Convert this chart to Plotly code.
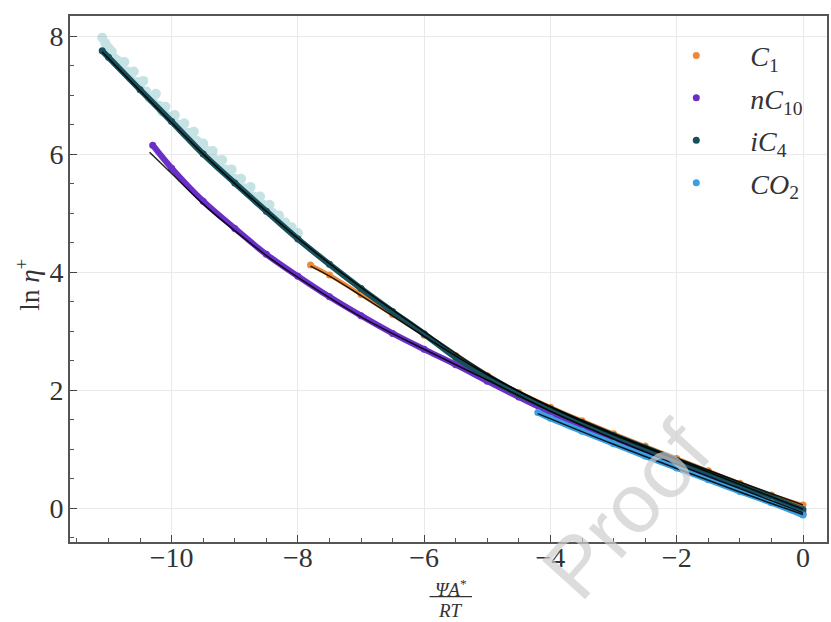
import plotly.graph_objects as go

# ---------------- data ----------------
series_names = ["C1", "nC10", "iC4", "CO2"]
legend_labels = ["<i>C</i><sub>1</sub>", "<i>nC</i><sub>10</sub>",
                 "<i>iC</i><sub>4</sub>", "<i>CO</i><sub>2</sub>"]
colors = ["#ee8a35", "#6a2fc8", "#174f5a", "#3aa0e2"]
line_widths = [4, 6, 6, 6]

x_c1 = [-7.8, -7.5, -7.0, -6.5, -6.0, -5.5, -5.0, -4.5, -4.0, -3.5, -3.0, -2.5, -2.0, -1.5, -1.0, -0.5, 0.0]
y_c1 = [4.12, 3.95, 3.62, 3.28, 2.93, 2.58, 2.24, 1.96, 1.71, 1.48, 1.26, 1.05, 0.84, 0.63, 0.42, 0.22, 0.05]

x_nc10 = [-10.3, -10.0, -9.5, -9.0, -8.5, -8.0, -7.5, -7.0, -6.5, -6.0, -5.5, -5.0, -4.5, -4.0, -3.5, -3.0, -2.5, -2.0, -1.5, -1.0, -0.5, 0.0]
y_nc10 = [6.15, 5.76, 5.20, 4.74, 4.30, 3.93, 3.58, 3.26, 2.96, 2.69, 2.43, 2.15, 1.88, 1.62, 1.38, 1.16, 0.94, 0.73, 0.52, 0.32, 0.11, -0.10]

x_ic4 = [-11.1, -11.0, -10.5, -10.0, -9.5, -9.0, -8.5, -8.0, -7.5, -7.0, -6.5, -6.0, -5.5, -5.0, -4.5, -4.0, -3.5, -3.0, -2.5, -2.0, -1.5, -1.0, -0.5, 0.0]
y_ic4 = [7.75, 7.64, 7.09, 6.55, 6.00, 5.51, 5.03, 4.56, 4.13, 3.72, 3.33, 2.95, 2.55, 2.22, 1.93, 1.68, 1.45, 1.23, 1.02, 0.81, 0.60, 0.39, 0.18, -0.03]

# scattered (noisy) iC4 points at high viscosity
x_ic4_noise = [-11.10, -11.05, -11.00, -10.95, -10.90, -10.85, -10.80, -10.75, -10.70, -10.65, -10.60, -10.55,
               -10.50, -10.45, -10.40, -10.35, -10.30, -10.25, -10.20, -10.15, -10.10, -10.05, -10.00, -9.95,
               -9.90, -9.85, -9.80, -9.75, -9.70, -9.65, -9.60, -9.55, -9.50, -9.45, -9.40, -9.35, -9.30,
               -9.25, -9.20, -9.15, -9.10, -9.05, -9.00, -8.95, -8.90, -8.85, -8.80, -8.75, -8.70, -8.65,
               -8.60, -8.55, -8.50, -8.45, -8.40, -8.35, -8.30, -8.20, -8.10, -8.00]
y_ic4_noise = [7.97, 7.88, 7.80, 7.74, 7.62, 7.58, 7.50, 7.56, 7.40, 7.30, 7.40, 7.22,
               7.14, 7.24, 7.06, 6.95, 6.92, 7.02, 6.82, 6.72, 6.80, 6.64, 6.58, 6.66,
               6.50, 6.42, 6.52, 6.36, 6.28, 6.38, 6.22, 6.12, 6.18, 6.06, 5.98, 6.05, 5.90,
               5.82, 5.90, 5.74, 5.66, 5.74, 5.58, 5.50, 5.58, 5.42, 5.36, 5.44, 5.28, 5.20,
               5.28, 5.14, 5.08, 5.14, 5.00, 4.94, 4.96, 4.84, 4.76, 4.66]

x_co2 = [-4.2, -4.0, -3.5, -3.0, -2.5, -2.0, -1.5, -1.0, -0.5, 0.0]
y_co2 = [1.62, 1.52, 1.30, 1.09, 0.88, 0.68, 0.48, 0.28, 0.09, -0.12]

# fitted model lines (black)
x_fit_c1 = [-7.8, -7.5, -7.0, -6.0, -5.0, -4.0, -3.0, -2.0, -1.0, 0.0]
y_fit_c1 = [4.10, 3.93, 3.60, 2.91, 2.26, 1.72, 1.26, 0.84, 0.44, 0.05]
x_fit_nc10 = [-10.35, -10.0, -9.5, -9.0, -8.5, -8.0, -7.0, -6.0, -5.0, -4.0, -3.0, -2.0, -1.0, 0.0]
y_fit_nc10 = [6.03, 5.67, 5.15, 4.70, 4.28, 3.91, 3.24, 2.69, 2.17, 1.64, 1.17, 0.74, 0.33, -0.08]
x_fit_ic4 = [-11.1, -10.5, -10.0, -9.5, -9.0, -8.5, -8.0, -7.0, -6.0, -5.0, -4.0, -3.0, -2.0, -1.0, 0.0]
y_fit_ic4 = [7.73, 7.07, 6.53, 6.00, 5.50, 5.03, 4.57, 3.74, 2.99, 2.28, 1.71, 1.24, 0.82, 0.40, -0.02]
x_fit_co2 = [-4.2, -3.0, -2.0, -1.0, 0.0]
y_fit_co2 = [1.60, 1.08, 0.67, 0.27, -0.11]

x_ticks = [-10, -8, -6, -4, -2, 0]
y_ticks = [0, 2, 4, 6, 8]

FONT = "Liberation Serif, DejaVu Serif, serif"
TXT = "#333333"

fig = go.Figure()

data_x = [x_c1, x_nc10, x_ic4, x_co2]
data_y = [y_c1, y_nc10, y_ic4, y_co2]

# pale noisy iC4 points
fig.add_trace(go.Scatter(x=x_ic4_noise, y=y_ic4_noise, mode="markers",
                         marker=dict(size=10, color="#6fb8bd"), opacity=0.4,
                         showlegend=False, hoverinfo="skip"))

for name, lab, col, lw, xs, ys in zip(series_names, legend_labels, colors, line_widths, data_x, data_y):
    fig.add_trace(go.Scatter(x=xs, y=ys, mode="lines", line=dict(color=col, width=lw, shape="spline"),
                             showlegend=False, hoverinfo="skip", legendgroup=name))
    fig.add_trace(go.Scatter(x=xs, y=ys, mode="markers", name=lab, legendgroup=name,
                             marker=dict(size=7, color=col)))

for xs, ys in [(x_fit_c1, y_fit_c1), (x_fit_nc10, y_fit_nc10), (x_fit_ic4, y_fit_ic4), (x_fit_co2, y_fit_co2)]:
    fig.add_trace(go.Scatter(x=xs, y=ys, mode="lines", line=dict(color="rgba(0,0,0,0.85)", width=1.6, shape="spline"),
                             showlegend=False, hoverinfo="skip"))

axis_common = dict(
    showgrid=True, gridcolor="#e9e9e9", gridwidth=1,
    zeroline=False, showline=True, linecolor="#555555", linewidth=1.6, mirror=True,
    ticks="inside", ticklen=7, tickwidth=1.2, tickcolor="#444444",
    tickfont=dict(family=FONT, size=28, color=TXT),
    minor=dict(ticks="inside", ticklen=4, tickwidth=1, tickcolor="#555555", dtick=0.5, showgrid=False),
)

fig.update_layout(
    width=831, height=622,
    margin=dict(l=70, r=2, t=16, b=80),
    paper_bgcolor="white", plot_bgcolor="white",
    font=dict(family=FONT, color=TXT),
    xaxis=dict(range=[-11.61, 0.38], tickvals=x_ticks, ticklabelstandoff=-10, **axis_common),
    yaxis=dict(range=[-0.576, 8.34], tickvals=y_ticks, ticklabelstandoff=-1, **axis_common),
    legend=dict(x=0.756, y=0.972, xanchor="left", yanchor="top", bgcolor="rgba(0,0,0,0)",
                font=dict(family=FONT, size=28, color=TXT), tracegroupgap=3,
                itemwidth=98),
    showlegend=True,
)

# y-axis label
fig.add_annotation(text="ln <i>η</i><sup>+</sup>", xref="paper", yref="paper",
                   x=-0.055, y=0.49, xanchor="center", yanchor="middle", textangle=-90,
                   showarrow=False, font=dict(family=FONT, size=27, color=TXT))
# x-axis label as a fraction
fig.add_annotation(text="<i>ΨA</i><sup>*</sup>", xref="paper", yref="paper",
                   x=0.503, y=-0.088, xanchor="center", yanchor="middle",
                   showarrow=False, font=dict(family=FONT, size=19, color=TXT))
fig.add_annotation(text="<i>RT</i>", xref="paper", yref="paper",
                   x=0.503, y=-0.13, xanchor="center", yanchor="middle",
                   showarrow=False, font=dict(family=FONT, size=19, color=TXT))
fig.add_shape(type="line", xref="paper", yref="paper", x0=0.475, x1=0.531, y0=-0.104, y1=-0.104,
              line=dict(color=TXT, width=1.3))

# publisher watermark
fig.add_annotation(text="Proof", xref="paper", yref="paper", x=0.735, y=0.06,
                   xanchor="center", yanchor="middle", textangle=-48, showarrow=False,
                   font=dict(family="Liberation Sans", size=84, color="rgba(205,205,205,0.7)"))

fig.write_html("out.html")
